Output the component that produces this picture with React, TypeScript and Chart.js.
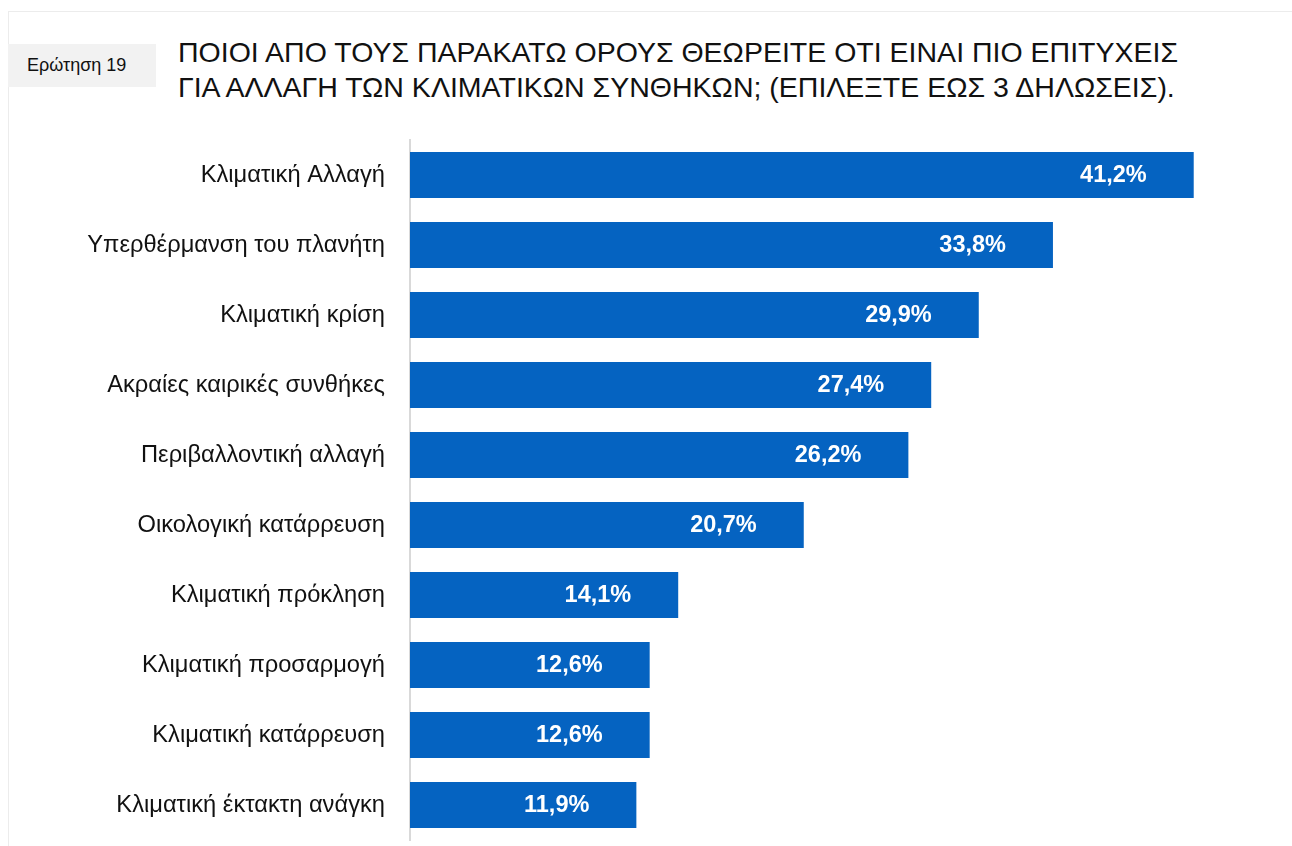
import React, { useEffect, useRef } from "react";
import { Chart, registerables } from "chart.js";

Chart.register(...registerables);

const questionLabel = "Ερώτηση 19";
const titleLines = [
  "ΠΟΙΟΙ ΑΠΟ ΤΟΥΣ ΠΑΡΑΚΑΤΩ ΟΡΟΥΣ ΘΕΩΡΕΙΤΕ ΟΤΙ ΕΙΝΑΙ ΠΙΟ ΕΠΙΤΥΧΕΙΣ",
  "ΓΙΑ ΑΛΛΑΓΗ ΤΩΝ ΚΛΙΜΑΤΙΚΩΝ ΣΥΝΘΗΚΩΝ; (ΕΠΙΛΕΞΤΕ ΕΩΣ 3 ΔΗΛΩΣΕΙΣ).",
];

const categories = [
  "Κλιματική Αλλαγή",
  "Υπερθέρμανση του πλανήτη",
  "Κλιματική κρίση",
  "Ακραίες καιρικές συνθήκες",
  "Περιβαλλοντική αλλαγή",
  "Οικολογική κατάρρευση",
  "Κλιματική πρόκληση",
  "Κλιματική προσαρμογή",
  "Κλιματική κατάρρευση",
  "Κλιματική έκτακτη ανάγκη",
];

const values = [41.2, 33.8, 29.9, 27.4, 26.2, 20.7, 14.1, 12.6, 12.6, 11.9];

const FONT = '"Liberation Sans", Arial, sans-serif';

const valueLabelPlugin = {
  id: "valueLabels",
  afterDatasetsDraw(chart: any) {
    const ctx = chart.ctx;
    const meta = chart.getDatasetMeta(0);
    ctx.save();
    ctx.font = `bold 23.5px ${FONT}`;
    ctx.fillStyle = "#ffffff";
    ctx.textAlign = "right";
    ctx.textBaseline = "middle";
    meta.data.forEach((bar: any, i: number) => {
      const v = chart.data.datasets[0].data[i] as number;
      const txt = v.toFixed(1).replace(".", ",") + "%";
      ctx.fillText(txt, bar.x - 47, bar.y + 1);
    });
    ctx.restore();
  },
};

export default function App() {
  const canvasRef = useRef<HTMLCanvasElement | null>(null);

  useEffect(() => {
    if (!canvasRef.current) return;
    const chart = new Chart(canvasRef.current, {
      type: "bar",
      data: {
        labels: categories,
        datasets: [
          {
            data: values,
            backgroundColor: "#0563C1",
            borderWidth: 0,
            barPercentage: 46 / 70,
            categoryPercentage: 1,
          },
        ],
      },
      options: {
        indexAxis: "y",
        animation: false,
        responsive: false,
        maintainAspectRatio: false,
        layout: { padding: { top: 10, bottom: 6, left: 0, right: 18 } },
        plugins: {
          legend: { display: false },
          tooltip: { enabled: false },
          title: { display: false },
        },
        scales: {
          x: {
            display: false,
            min: 0,
            max: 45,
          },
          y: {
            grid: { display: false, drawTicks: false },
            border: { display: true, color: "#d9d9d9", width: 2 },
            ticks: {
              color: "#111111",
              padding: 25,
              font: { family: FONT, size: 23.7 },
            },
            afterFit(scale: any) {
              scale.width = 402;
              scale.paddingTop = 0;
              scale.paddingBottom = 0;
            },
          },
        },
      },
      plugins: [valueLabelPlugin],
    } as any);
    return () => chart.destroy();
  }, []);

  return (
    <div
      style={{
        position: "fixed",
        left: 0,
        top: 0,
        width: 1292,
        height: 846,
        overflow: "hidden",
        background: "#ffffff",
        fontFamily: FONT,
      }}
    >
      <div
        style={{
          position: "absolute",
          left: 8,
          top: 11,
          width: 1400,
          height: 900,
          border: "1px solid #ececec",
        }}
      />
      <div
        style={{
          position: "absolute",
          left: 8,
          top: 44,
          width: 148,
          height: 43,
          background: "#f2f2f2",
          color: "#111",
          fontSize: 18,
          lineHeight: "43px",
          paddingLeft: 19,
          boxSizing: "border-box",
        }}
      >
        {questionLabel}
      </div>
      <div
        style={{
          position: "absolute",
          left: 178,
          top: 35,
          fontSize: 28.5,
          lineHeight: "35px",
          color: "#111",
          whiteSpace: "nowrap",
        }}
      >
        {titleLines.map((t, i) => (
          <div key={i}>{t}</div>
        ))}
      </div>
      <canvas
        ref={canvasRef}
        width={1276}
        height={716}
        style={{ position: "absolute", left: 8, top: 130, width: 1276, height: 716 }}
      />
    </div>
  );
}
